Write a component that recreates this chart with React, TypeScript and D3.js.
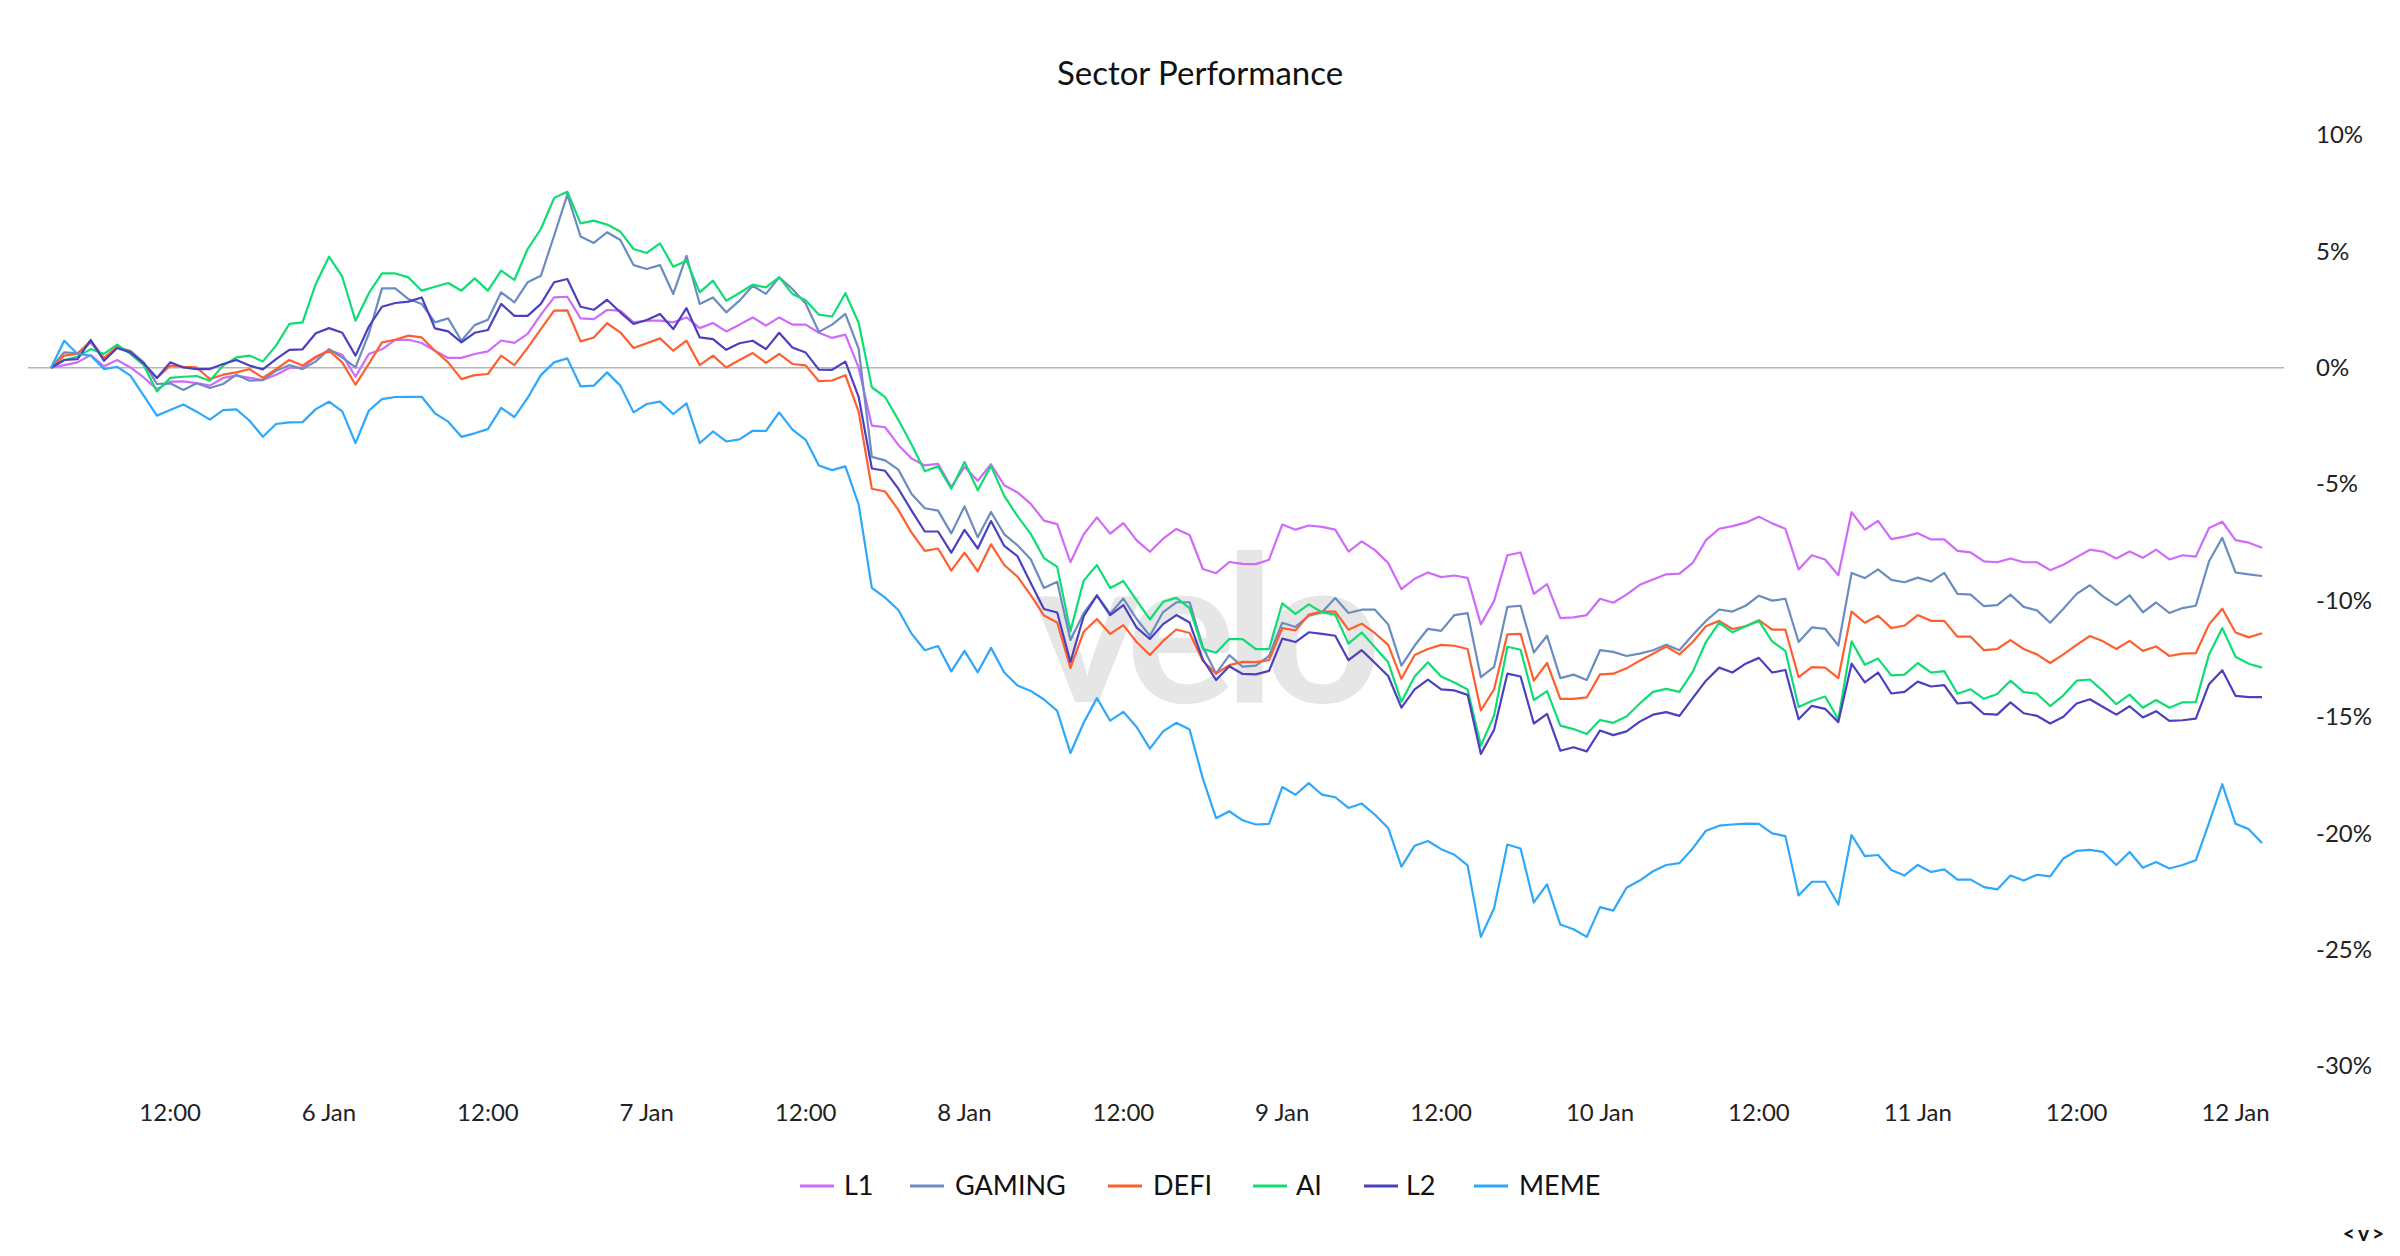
import React from "react";
import * as d3 from "d3";

// ---------- DATA (hourly % performance, 5 Jan 03:00 → 12 Jan 02:00 UTC) ----------
const startTime = Date.UTC(2025, 0, 5, 3, 0, 0);

const seriesNames = ["L1", "GAMING", "DEFI", "AI", "L2", "MEME"];
const seriesColors = ["#d06af8", "#6b8cc0", "#ff5f2e", "#10dc74", "#4b40bf", "#2ea8fa"];

const L1 = [
  0, 0.11, 0.23, 0.54, 0.06, 0.33, 0.01, -0.42, -0.92, -0.6,
  -0.59, -0.66, -0.77, -0.44, -0.34, -0.44, -0.53, -0.3, -0.01, 0.01,
  0.44, 0.76, 0.56, -0.39, 0.59, 0.79, 1.2, 1.2, 1.06, 0.73,
  0.42, 0.42, 0.59, 0.7, 1.17, 1.07, 1.45, 2.28, 3.02, 3.05,
  2.12, 2.09, 2.48, 2.45, 1.95, 2.02, 2.02, 1.95, 2.16, 1.7,
  1.92, 1.56, 1.85, 2.16, 1.81, 2.16, 1.85, 1.85, 1.5, 1.28,
  1.42, 0.0, -2.49, -2.56, -3.32, -3.9, -4.2, -4.13, -5.13, -4.26,
  -4.86, -4.15, -5.05, -5.36, -5.85, -6.57, -6.72, -8.36, -7.16, -6.43,
  -7.13, -6.68, -7.42, -7.91, -7.35, -6.93, -7.19, -8.65, -8.83, -8.35,
  -8.43, -8.44, -8.25, -6.74, -6.96, -6.78, -6.84, -6.96, -7.9, -7.46,
  -7.84, -8.39, -9.52, -9.07, -8.8, -9.0, -8.93, -9.03, -11.03, -10.02,
  -8.06, -7.94, -9.72, -9.3, -10.76, -10.73, -10.63, -9.93, -10.1, -9.75,
  -9.33, -9.1, -8.88, -8.85, -8.39, -7.41, -6.92, -6.81, -6.66, -6.4,
  -6.69, -6.92, -8.67, -8.06, -8.24, -8.92, -6.21, -6.96, -6.58, -7.37,
  -7.26, -7.11, -7.38, -7.38, -7.87, -7.94, -8.32, -8.36, -8.2, -8.36,
  -8.36, -8.7, -8.47, -8.14, -7.82, -7.91, -8.2, -7.9, -8.17, -7.82,
  -8.24, -8.06, -8.12, -6.89, -6.62, -7.41, -7.52, -7.74,
];

const GAMING = [
  0, 0.66, 0.62, 1.09, 0.37, 0.87, 0.73, 0.23, -0.7, -0.67,
  -0.96, -0.67, -0.87, -0.7, -0.3, -0.56, -0.53, -0.13, 0.11, -0.06,
  0.27, 0.8, 0.44, 0.01, 1.45, 3.41, 3.41, 2.95, 2.74, 1.95,
  2.12, 1.16, 1.83, 2.06, 3.24, 2.81, 3.67, 3.95, 5.67, 7.44,
  5.64, 5.36, 5.82, 5.49, 4.41, 4.24, 4.41, 3.17, 4.81, 2.74,
  3.02, 2.38, 2.88, 3.52, 3.17, 3.88, 3.38, 2.76, 1.54, 1.85,
  2.31, 0.82, -3.83, -3.98, -4.38, -5.43, -6.04, -6.14, -7.12, -5.96,
  -7.29, -6.2, -7.16, -7.63, -8.23, -9.47, -9.2, -11.7, -10.55, -9.78,
  -10.57, -9.92, -10.8, -11.52, -10.5, -10.08, -10.08, -12.0, -13.15, -12.35,
  -12.85, -12.8, -12.39, -10.96, -11.14, -10.66, -10.51, -9.9, -10.54, -10.4,
  -10.4, -11.03, -12.8, -11.94, -11.22, -11.31, -10.63, -10.55, -13.3, -12.86,
  -10.28, -10.23, -12.24, -11.52, -13.34, -13.19, -13.42, -12.14, -12.21, -12.39,
  -12.29, -12.14, -11.91, -12.14, -11.49, -10.88, -10.39, -10.48, -10.23, -9.8,
  -10.01, -9.93, -11.79, -11.16, -11.22, -11.94, -8.82, -9.04, -8.67, -9.12,
  -9.22, -9.02, -9.19, -8.82, -9.72, -9.75, -10.25, -10.2, -9.75, -10.28,
  -10.43, -10.96, -10.36, -9.72, -9.35, -9.83, -10.2, -9.78, -10.51, -10.09,
  -10.54, -10.33, -10.23, -8.32, -7.31, -8.8, -8.88, -8.95,
];

const DEFI = [
  0, 0.52, 0.59, 1.16, 0.42, 0.9, 0.66, 0.16, -0.44, 0.09,
  0.04, 0.01, -0.49, -0.3, -0.2, -0.06, -0.44, -0.06, 0.33, 0.09,
  0.47, 0.73, 0.23, -0.73, 0.16, 1.09, 1.2, 1.38, 1.3, 0.73,
  0.23, -0.49, -0.32, -0.27, 0.52, 0.11, 0.85, 1.66, 2.45, 2.46,
  1.13, 1.3, 1.91, 1.52, 0.85, 1.05, 1.26, 0.73, 1.16, 0.11,
  0.52, 0.01, 0.33, 0.63, 0.21, 0.59, 0.16, 0.1, -0.58, -0.55,
  -0.32, -1.89, -5.2, -5.32, -6.11, -7.09, -7.87, -7.77, -8.72, -7.95,
  -8.75, -7.59, -8.48, -8.98, -9.77, -10.65, -10.95, -12.9, -11.35, -10.8,
  -11.44, -11.06, -11.79, -12.35, -11.74, -11.25, -11.4, -12.6, -13.15, -12.78,
  -12.64, -12.65, -12.57, -11.19, -11.29, -10.61, -10.48, -10.48, -11.26, -11.0,
  -11.41, -11.91, -13.37, -12.35, -12.09, -11.91, -11.95, -12.09, -14.73, -13.82,
  -11.46, -11.44, -13.45, -12.69, -14.23, -14.23, -14.17, -13.18, -13.15, -12.92,
  -12.59, -12.29, -11.98, -12.32, -11.79, -11.11, -10.88, -11.23, -11.11, -10.85,
  -11.26, -11.26, -13.3, -12.87, -12.89, -13.34, -10.48, -10.96, -10.66, -11.19,
  -11.08, -10.63, -10.88, -10.88, -11.56, -11.56, -12.14, -12.09, -11.71, -12.09,
  -12.32, -12.69, -12.32, -11.91, -11.53, -11.76, -12.09, -11.74, -12.17, -11.98,
  -12.39, -12.29, -12.27, -11.03, -10.36, -11.38, -11.59, -11.41,
];

const AI = [
  0, 0.33, 0.47, 0.8, 0.59, 0.99, 0.59, 0.11, -1.02, -0.44,
  -0.39, -0.36, -0.56, 0.09, 0.44, 0.52, 0.27, 0.95, 1.88, 1.95,
  3.6, 4.77, 3.91, 2.02, 3.19, 4.05, 4.05, 3.88, 3.31, 3.48,
  3.64, 3.31, 3.84, 3.31, 4.17, 3.77, 5.1, 5.96, 7.29, 7.56,
  6.2, 6.32, 6.15, 5.85, 5.1, 4.93, 5.34, 4.34, 4.6, 3.24,
  3.74, 2.88, 3.21, 3.57, 3.45, 3.88, 3.17, 2.9, 2.28, 2.2,
  3.2, 1.93, -0.84, -1.26, -2.24, -3.3, -4.45, -4.24, -5.2, -4.05,
  -5.27, -4.22, -5.51, -6.38, -7.14, -8.18, -8.56, -11.32, -9.15, -8.48,
  -9.47, -9.17, -10.0, -10.82, -10.06, -9.89, -10.33, -12.08, -12.25, -11.66,
  -11.66, -12.09, -12.09, -10.13, -10.58, -10.17, -10.51, -10.61, -11.86, -11.38,
  -12.01, -12.66, -14.35, -13.27, -12.66, -13.27, -13.53, -13.83, -16.24, -14.94,
  -11.99, -12.12, -14.28, -13.9, -15.38, -15.53, -15.74, -15.14, -15.26, -14.99,
  -14.43, -13.93, -13.8, -13.93, -13.07, -11.79, -10.96, -11.37, -11.11, -10.88,
  -11.76, -12.17, -14.58, -14.32, -14.13, -15.11, -11.76, -12.77, -12.5, -13.22,
  -13.19, -12.69, -13.1, -13.04, -14.01, -13.82, -14.23, -14.02, -13.45, -13.94,
  -14.01, -14.54, -14.08, -13.45, -13.4, -13.9, -14.46, -14.05, -14.61, -14.28,
  -14.61, -14.38, -14.37, -12.32, -11.19, -12.42, -12.72, -12.89,
];

const L2 = [
  0, 0.33, 0.37, 1.19, 0.3, 0.85, 0.66, 0.19, -0.44, 0.23,
  0.01, -0.06, -0.06, 0.16, 0.33, 0.09, -0.07, 0.37, 0.77, 0.79,
  1.48, 1.7, 1.5, 0.52, 1.76, 2.62, 2.78, 2.84, 3.02, 1.69,
  1.56, 1.09, 1.5, 1.62, 2.74, 2.23, 2.23, 2.74, 3.67, 3.81,
  2.62, 2.49, 2.92, 2.38, 1.88, 2.05, 2.31, 1.66, 2.56, 1.3,
  1.23, 0.77, 1.05, 1.16, 0.8, 1.5, 0.87, 0.65, -0.08, -0.09,
  0.26, -1.25, -4.33, -4.43, -5.2, -6.14, -7.04, -7.04, -7.95, -6.97,
  -7.77, -6.59, -7.66, -8.1, -9.25, -10.37, -10.52, -12.65, -10.68, -9.79,
  -10.63, -10.2, -11.17, -11.66, -11.02, -10.63, -10.95, -12.54, -13.42, -12.83,
  -13.16, -13.18, -13.03, -11.64, -11.79, -11.37, -11.44, -11.52, -12.57, -12.14,
  -12.69, -13.25, -14.61, -13.82, -13.4, -13.82, -13.87, -14.06, -16.6, -15.56,
  -13.15, -13.27, -15.29, -14.88, -16.46, -16.31, -16.49, -15.59, -15.79, -15.63,
  -15.21, -14.91, -14.8, -14.96, -14.2, -13.45, -12.89, -13.1, -12.72, -12.47,
  -13.1, -12.99, -15.11, -14.53, -14.66, -15.23, -12.72, -13.52, -13.1, -14.0,
  -13.93, -13.49, -13.7, -13.64, -14.43, -14.38, -14.88, -14.91, -14.38, -14.85,
  -14.96, -15.29, -15.0, -14.43, -14.25, -14.58, -14.91, -14.55, -15.03, -14.76,
  -15.18, -15.15, -15.08, -13.6, -13.0, -14.1, -14.16, -14.16,
];

const MEME = [
  0, 1.16, 0.59, 0.52, -0.06, 0.04, -0.34, -1.2, -2.06, -1.82,
  -1.58, -1.89, -2.23, -1.82, -1.79, -2.28, -2.97, -2.42, -2.35, -2.34,
  -1.78, -1.46, -1.88, -3.24, -1.85, -1.35, -1.26, -1.25, -1.25, -1.96,
  -2.32, -2.97, -2.82, -2.64, -1.73, -2.12, -1.3, -0.32, 0.23, 0.4,
  -0.8, -0.77, -0.2, -0.77, -1.92, -1.56, -1.46, -1.99, -1.53, -3.24,
  -2.74, -3.17, -3.08, -2.71, -2.72, -1.92, -2.66, -3.1, -4.2, -4.4,
  -4.24, -5.87, -9.46, -9.88, -10.41, -11.43, -12.14, -11.96, -13.05, -12.17,
  -13.09, -12.04, -13.1, -13.66, -13.89, -14.26, -14.75, -16.56, -15.26, -14.2,
  -15.17, -14.79, -15.44, -16.37, -15.63, -15.26, -15.55, -17.66, -19.36, -19.06,
  -19.45, -19.63, -19.6, -18.02, -18.35, -17.85, -18.35, -18.46, -18.92, -18.73,
  -19.21, -19.78, -21.44, -20.54, -20.34, -20.69, -20.93, -21.39, -24.46, -23.23,
  -20.49, -20.66, -22.98, -22.2, -23.93, -24.13, -24.46, -23.18, -23.33, -22.35,
  -22.04, -21.64, -21.37, -21.29, -20.66, -19.9, -19.68, -19.63, -19.59, -19.6,
  -20.01, -20.13, -22.68, -22.09, -22.09, -23.07, -20.08, -20.99, -20.94, -21.59,
  -21.82, -21.37, -21.67, -21.56, -22.0, -22.0, -22.32, -22.42, -21.82, -22.04,
  -21.79, -21.86, -21.09, -20.76, -20.72, -20.81, -21.37, -20.81, -21.49, -21.24,
  -21.52, -21.37, -21.17, -19.56, -17.9, -19.6, -19.83, -20.43,
];

const seriesValues = [L1, GAMING, DEFI, AI, L2, MEME];
const yTickValues = [10, 5, 0, -5, -10, -15, -20, -25, -30];

// ---------- LAYOUT ----------
const W = 2400;
const H = 1256;
const FONT = "Lato, 'Open Sans', sans-serif";
const plotLeft = 51;
const plotRight = 2262;
const gridLeft = 28;
const gridRight = 2284;
const legendY = 1186;
const legendItems = [
  { line: 800, text: 844 },
  { line: 910, text: 955 },
  { line: 1108, text: 1153 },
  { line: 1253, text: 1296 },
  { line: 1364, text: 1406 },
  { line: 1474, text: 1519 },
];

export default function App() {
  const n = L1.length;
  const times = d3.range(n).map((i) => new Date(startTime + i * 3600 * 1000));
  const x = d3
    .scaleUtc()
    .domain([times[0], times[n - 1]])
    .range([plotLeft, plotRight]);
  const y = d3.scaleLinear().domain([-30, 10]).range([1065.8, 135]);

  const line = d3
    .line<number>()
    .x((_, i) => x(times[i]))
    .y((d) => y(d));

  const ticks = d3.utcHour
    .every(12)!
    .range(new Date(startTime), new Date(startTime + n * 3600 * 1000));
  const fmt = (d: Date) =>
    d.getUTCHours() === 0 ? `${d.getUTCDate()} Jan` : "12:00";

  return (
    <div style={{ position: "absolute", left: 0, top: 0, width: W, height: H, background: "#fff" }}>
      <svg width={W} height={H} style={{ display: "block" }} fontFamily={FONT}>
        <rect width={W} height={H} fill="#ffffff" />
        {/* watermark */}
        <text
          x={1201}
          y={702}
          textAnchor="middle"
          fontSize={206}
          fontWeight={700}
          fill="#e6e6e6"
          letterSpacing={-12}
          fontFamily="Lato, sans-serif"
        >
          velo
        </text>

        {/* title */}
        <text x={1200} y={85} textAnchor="middle" fontSize={33} fill="#111">
          Sector Performance
        </text>

        {/* zero line */}
        <line x1={gridLeft} x2={gridRight} y1={y(0)} y2={y(0)} stroke="#b5b5b5" strokeWidth={1.5} />

        {/* y labels */}
        {yTickValues.map((v) => (
          <text key={v} x={2316} y={y(v)} dy="0.35em" fontSize={24} fill="#222">
            {v === 0 ? "0%" : `${v}%`}
          </text>
        ))}

        {/* x labels */}
        {ticks.map((t) => (
          <text key={t.getTime()} x={x(t)} y={1121} textAnchor="middle" fontSize={24} fill="#222">
            {fmt(t)}
          </text>
        ))}

        {/* series */}
        {seriesValues.map((vals, s) => (
          <path
            key={seriesNames[s]}
            d={line(vals) || ""}
            fill="none"
            stroke={seriesColors[s]}
            strokeWidth={2.2}
            strokeLinejoin="round"
          />
        ))}

        {/* legend */}
        {seriesNames.map((name, s) => (
          <g key={name}>
            <line
              x1={legendItems[s].line}
              x2={legendItems[s].line + 34}
              y1={legendY}
              y2={legendY}
              stroke={seriesColors[s]}
              strokeWidth={3}
            />
            <text x={legendItems[s].text} y={legendY} dy="0.35em" fontSize={27} fill="#111">
              {name}
            </text>
          </g>
        ))}

        {/* corner mark */}
        <text x={2365} y={1241} textAnchor="middle" fontSize={21} fontWeight={700} fill="#111" letterSpacing={3}>
          {"<v>"}
        </text>
      </svg>
    </div>
  );
}
